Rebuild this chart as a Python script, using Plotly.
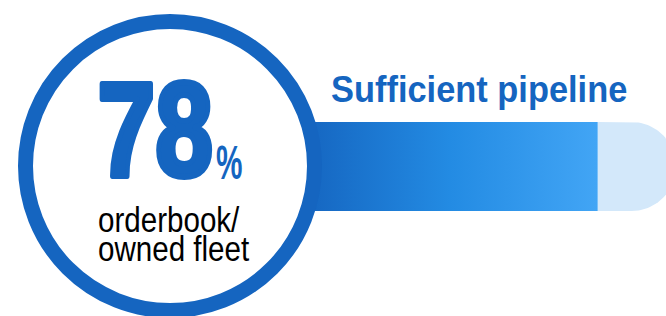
import json
import numpy as np
import plotly.graph_objects as go

# ---- data ----
metric_value = [78]            # percent
metric_unit = ["%"]
metric_label = ["orderbook/", "owned fleet"]
headline = ["Sufficient pipeline"]
track_max = [100]

W, H = 666, 316
BLUE = "#1565C0"
LIGHT = "#D3E8FA"

# track geometry (pixels)
trk_left_px, trk_right_px = 320, 676
trk_top, trk_bot = 122, 211
px_per_unit = (trk_right_px - trk_left_px) / track_max[0]
x2_range = [-trk_left_px / px_per_unit, (W - trk_left_px) / px_per_unit]

val = metric_value[0]
half_h = (trk_bot - trk_top) / 2
r_units = half_h / px_per_unit
cy_bar = (trk_top + trk_bot) / 2
arc_cx = track_max[0] - r_units
t = np.linspace(-np.pi / 2, np.pi / 2, 60)
arc_x = list(arc_cx + r_units * np.cos(t))
arc_y = list(cy_bar + half_h * np.sin(t))

fig = go.Figure()

# remaining (light) part of the track with rounded end
fig.add_trace(go.Scatter(
    x=[val, arc_cx] + arc_x + [arc_cx, val, val],
    y=[trk_top, trk_top] + arc_y + [trk_bot, trk_bot, trk_top],
    xaxis="x2", yaxis="y", mode="lines", line=dict(width=0),
    fill="toself", fillcolor=LIGHT, hoverinfo="skip", showlegend=False))

# filled (gradient) part of the track
left_hidden = -5
fig.add_trace(go.Scatter(
    x=[left_hidden, val, val, left_hidden, left_hidden],
    y=[trk_top, trk_top, trk_bot, trk_bot, trk_top],
    xaxis="x2", yaxis="y", mode="lines", line=dict(width=0),
    fill="toself",
    fillgradient=dict(type="horizontal",
                      colorscale=[[0, "#1565C0"], [0.5, "#238BE3"], [1, "#42A5F5"]]),
    hoverinfo="skip", showlegend=False))

# ring
cx, cy, r_mid, lw = 170, 166, 144.5, 15
fig.add_shape(type="circle", xref="x", yref="y",
              x0=cx - r_mid, x1=cx + r_mid, y0=cy - r_mid, y1=cy + r_mid,
              line=dict(color=BLUE, width=lw), fillcolor="white", layer="above")

sans = "Liberation Sans, Arial, sans-serif"

# [horizontal squeeze, squeeze origin, stroke width, 2nd-line offset (em)] per annotation
ann_specs = []
fig.add_annotation(x=215, y=129, xref="x", yref="y", xanchor="right", yanchor="middle",
                   text=f"<b>{val}</b>", showarrow=False,
                   font=dict(family=sans, size=134, color=BLUE))
ann_specs.append([0.775, "right center", 6, 0])
fig.add_annotation(x=214, y=162.5, xref="x", yref="y", xanchor="left", yanchor="middle",
                   text=f"<b>{metric_unit[0]}</b>", showarrow=False,
                   font=dict(family=sans, size=48, color=BLUE))
ann_specs.append([0.62, "left center", 0, 0])
fig.add_annotation(x=96, y=197.5, xref="x", yref="y", xanchor="left", yanchor="top",
                   align="left", text="<br>".join(metric_label), showarrow=False,
                   font=dict(family=sans, size=35, color="black"))
ann_specs.append([0.845, "left top", 0, 29 / 35])
fig.add_annotation(x=329, y=89.5, xref="x", yref="y", xanchor="left", yanchor="middle",
                   text=f"<b>{headline[0]}</b>", showarrow=False,
                   font=dict(family=sans, size=37, color=BLUE))
ann_specs.append([0.93, "left center", 0, 0])

fig.update_layout(
    width=W, height=H, margin=dict(l=0, r=0, t=0, b=0),
    paper_bgcolor="white", plot_bgcolor="white",
    xaxis=dict(range=[0, W], visible=False, fixedrange=True),
    xaxis2=dict(range=x2_range, overlaying="x", visible=False, fixedrange=True),
    yaxis=dict(range=[H, 0], visible=False, fixedrange=True),
    showlegend=False, hovermode=False,
)

post = """
document.body.style.margin = '0';
document.body.style.overflow = 'hidden';
var specs = %s;
var gd = document.getElementById('{plot_id}');
function squeeze() {
  gd.querySelectorAll('.annotation').forEach(function (a) {
    var s = specs[parseInt(a.getAttribute('data-index'))];
    if (!s) return;
    var t = a.querySelector('text.annotation-text');
    if (!t) return;
    if (s[3] > 0) {
      var lines = t.querySelectorAll('tspan.line');
      if (lines.length > 1) lines[1].setAttribute('dy', s[3] + 'em');
    }
    t.style.transformBox = 'fill-box';
    t.style.transformOrigin = s[1];
    t.style.transform = 'scaleX(' + s[0] + ')';
    if (s[2] > 0) {
      t.style.stroke = '%s';
      t.style.strokeWidth = s[2] + 'px';
      t.style.strokeLinejoin = 'round';
    }
  });
}
squeeze();
gd.on('plotly_afterplot', squeeze);
""" % (json.dumps(ann_specs), BLUE)

fig.write_html("out.html", post_script=post, config={"displayModeBar": False})
